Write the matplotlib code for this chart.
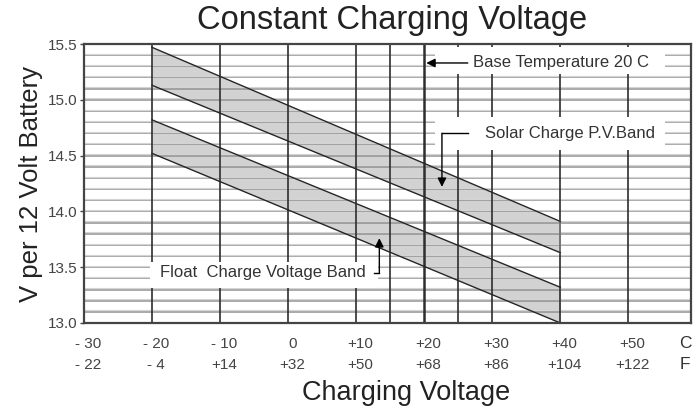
import matplotlib
matplotlib.use("Agg")
import matplotlib.pyplot as plt
import matplotlib.transforms as mtransforms
from matplotlib.patches import Rectangle
import numpy as np

plt.rcParams['font.family'] = ['Liberation Sans', 'DejaVu Sans']

# ---- data ----
band_temps = [-20, 40]                      # deg C, band endpoints
solar_upper = [15.47, 13.91]
solar_lower = [15.13, 13.63]
float_upper = [14.82, 13.32]
float_lower = [14.52, 13.00]

celsius_ticks = [-30, -20, -10, 0, 10, 20, 30, 40, 50]
celsius_labels = ['- 30', '- 20', '- 10', '0', '+10', '+20', '+30', '+40', '+50']
fahrenheit_labels = ['- 22', '- 4', '+14', '+32', '+50', '+68', '+86', '+104', '+122']
vertical_grid = [-20, -10, 0, 10, 15, 20, 25, 30, 40, 50]
y_ticks = [13.0, 13.5, 14.0, 14.5, 15.0, 15.5]
y_tick_labels = ['13.0', '13.5', '14.0', '14.5', '15.0', '15.5']
base_temp = 20

fig = plt.figure(figsize=(6.97, 4.09), dpi=100)
ax = fig.add_axes([0.1205, 0.2103, 0.8709, 0.6821])
ax.set_xlim(-30, 59.2)
ax.set_ylim(13.0, 15.5)

# horizontal grid every 0.1 V
for v in np.arange(13.1, 15.45, 0.1):
    ax.axhline(v, color='#929292', lw=1.1, zorder=2)
    ax.axhline(v + 0.012, color='#d4d4d4', lw=0.8, zorder=2)

# bands
ax.fill_between(band_temps, solar_lower, solar_upper, color='#d2d2d2', zorder=1, lw=0)
ax.fill_between(band_temps, float_lower, float_upper, color='#d2d2d2', zorder=1, lw=0)
for s in (solar_upper, solar_lower, float_upper, float_lower):
    ax.plot(band_temps, s, color='#262626', lw=1.0, zorder=4)

# vertical grid
for t in vertical_grid:
    lw = 1.8 if t == base_temp else 1.2
    ax.axvline(t, color='#2e2e2e', lw=lw, zorder=3)
ax.plot([band_temps[1]] * 2, [solar_lower[1], solar_upper[1]], color='#777777', lw=1.4, zorder=3)

# white label boxes
for (x0, y0, w, h) in [(21.6, 15.23, 33.8, 0.24), (21.6, 14.55, 33.8, 0.30), (-20.3, 13.31, 33.5, 0.24)]:
    ax.add_patch(Rectangle((x0, y0), w, h, facecolor='white', edgecolor='none', zorder=5))

txt_kw = dict(fontsize=12, color='#333333', zorder=7, va='center')
ax.text(27.2, 15.33, 'Base Temperature 20 C', ha='left', **txt_kw)
ax.text(29.0, 14.70, 'Solar Charge P.V.Band', ha='left', **txt_kw)
ax.text(-18.8, 13.45, 'Float  Charge Voltage Band', ha='left', **txt_kw)

arrow_kw = dict(arrowstyle='-|>', color='black', lw=1.0, mutation_scale=13, shrinkA=0, shrinkB=0)
# base temperature arrow
ax.annotate('', xy=(20.3, 15.33), xytext=(26.4, 15.33), arrowprops=arrow_kw, zorder=8)
# solar arrow
ax.plot([22.6, 26.4], [14.70, 14.70], color='black', lw=1.0, zorder=8)
ax.annotate('', xy=(22.6, 14.22), xytext=(22.6, 14.70), arrowprops=arrow_kw, zorder=8)
# float arrow
ax.plot([12.6, 13.4], [13.45, 13.45], color='black', lw=1.0, zorder=8)
ax.annotate('', xy=(13.4, 13.76), xytext=(13.4, 13.45), arrowprops=arrow_kw, zorder=8)

# spines
for sp in ax.spines.values():
    sp.set_color('#444444')
    sp.set_linewidth(1.6)
    sp.set_zorder(9)

ax.set_xticks([])
ax.set_yticks(y_ticks)
ax.set_yticklabels(y_tick_labels, fontsize=11, color='#444444')
ax.tick_params(axis='y', length=3, width=1, color='#444444', pad=2)

# two-row x tick labels
trans = mtransforms.blended_transform_factory(ax.transData, ax.transAxes)
off = mtransforms.ScaledTranslation(4 / 100, 0, fig.dpi_scale_trans)
for t, c, f in zip(celsius_ticks, celsius_labels, fahrenheit_labels):
    ax.text(t, -0.075, c, transform=trans + off, ha='center', va='center', fontsize=11, color='#444444')
    ax.text(t, -0.15, f, transform=trans + off, ha='center', va='center', fontsize=11, color='#444444')
ax.text(0.99, -0.075, 'C', transform=ax.transAxes, ha='center', va='center', fontsize=12.5, color='#333333')
ax.text(0.99, -0.15, 'F', transform=ax.transAxes, ha='center', va='center', fontsize=12.5, color='#333333')

fig.text(0.562, 0.950, 'Constant Charging Voltage', ha='center', va='center', fontsize=23.5, color='#222222')
fig.text(0.582, 0.038, 'Charging Voltage', ha='center', va='center', fontsize=19.5, color='#222222')
fig.text(0.045, 0.55, 'V per 12 Volt Battery', ha='center', va='center', rotation=90, fontsize=18.5, color='#222222')

fig.savefig('out.png', dpi=100)
